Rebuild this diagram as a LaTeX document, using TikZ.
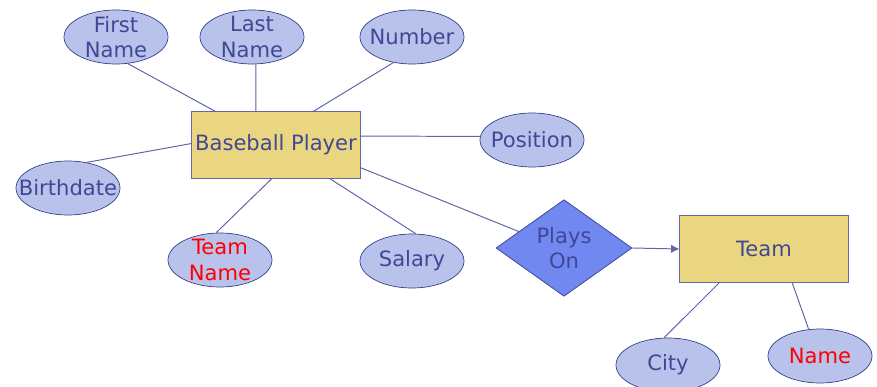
\documentclass[tikz,border=0pt]{standalone}
\usepackage{fontspec}
\setmainfont{DejaVu Sans}
\usepackage{tikz}
\usetikzlibrary{shapes.geometric}
\usetikzlibrary{arrows.meta}
\definecolor{attrfill}{RGB}{184,194,234}
\definecolor{entfill}{RGB}{234,214,128}
\definecolor{relfill}{RGB}{112,136,240}
\definecolor{edgec}{RGB}{58,62,140}
\definecolor{boxedge}{RGB}{100,104,164}
\definecolor{textc}{RGB}{64,72,150}
\definecolor{linkc}{RGB}{96,100,170}

\begin{document}
\begin{tikzpicture}[x=0.025cm, y=-0.025cm,
					font=\fontsize{15}{18}\selectfont,
					attr/.style={ellipse, draw=edgec, fill=attrfill, text=textc, line width=0.5pt, minimum width=2.6cm, minimum height=1.35cm, inner xsep=-20pt, inner ysep=-5pt, align=center},
					ent/.style={rectangle, draw=boxedge, fill=entfill, text=textc, line width=0.7pt, minimum width=4.2cm, minimum height=1.65cm, inner sep=0pt},
					rel/.style={diamond, draw=edgec, fill=relfill, text=textc, line width=0.5pt, minimum width=3.4cm, minimum height=2.4cm, inner sep=0pt, align=center},
					link/.style={draw=linkc, line width=0.7pt}]
				    		\useasboundingbox (0, 0) rectangle (877, 387);
				    		% entities and relationship
				    		\node[ent] (player) at (276, 145) {Baseball Player};
				    		\node[ent] (team) at (764, 249) {Team};
				    		\node[rel] (plays) at (564, 248) {Plays\\On};
				    		% attributes
				    		\node[attr] (first) at (116, 37) {First\\Name};
				    		\node[attr] (last) at (252, 37) {Last\\Name};
				    		\node[attr] (number) at (412, 37) {Number};
				    		\node[attr] (position) at (532, 140) {Position};
				    		\node[attr] (birth) at (68, 188) {Birthdate};
				    		\node[attr, text=red] (tname) at (220, 260) {Team\\Name};
				    		\node[attr] (salary) at (412, 261) {Salary};
				    		\node[attr] (city) at (668, 365) {City};
				    		\node[attr, text=red] (name) at (820, 356) {Name};
				    		% connectors
				    		\draw[link] (first.-66)--(player.151);
				    		\draw[link] (last.-82)--(player.121);
				    		\draw[link] (number.-126)--(player.42);
				    		\draw[link] (position.176)--(player.6);
				    		\draw[link] (birth.54)--(player.179);
				    		\draw[link] (tname.98)--(player.-97);
				    		\draw[link] (salary.82)--(player.-32);
				    		\draw[link] (player.-15)--(plays.160);
				    		\draw[link, -{Latex[length=6pt, width=6pt]}] (plays.east)--(team.west);
				    		\draw[link] (team.-143)--(city.98);
				    		\draw[link] (team.-50)--(name.113);
				    	\end{tikzpicture}
\end{document}
